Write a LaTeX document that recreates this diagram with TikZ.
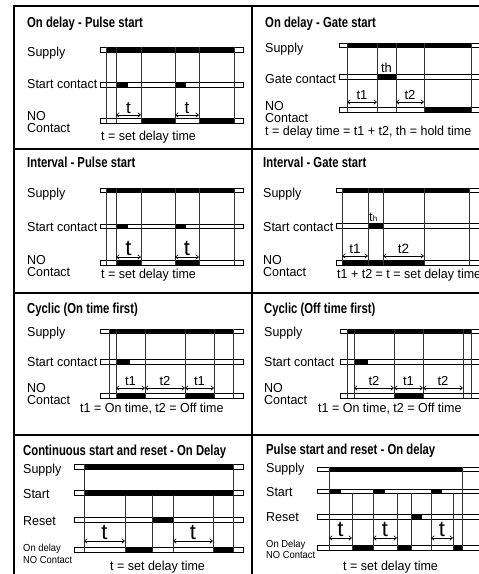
\documentclass[tikz,border=0pt]{standalone}
\usepackage{fontspec}
\setmainfont{Liberation Sans}
\newfontfamily\ttlfont[FakeStretch=0.78]{Liberation Sans Bold}
\newfontfamily\cndfont[FakeStretch=0.92]{Liberation Sans}
\newfontfamily\lblfont[FakeStretch=0.96]{Liberation Sans}
\usetikzlibrary{arrows.meta}
\tikzset{
 frame/.style={line width=1.6pt},
 sig/.style={draw, line width=0.75pt, fill=white},
 vl/.style={line width=0.7pt, draw=black!80},
 dim/.style={{Straight Barb[length=2.8pt,width=4.5pt]}-{Straight Barb[length=2.8pt,width=4.5pt]}, line width=0.6pt},
 ttl/.style={anchor=base west, inner sep=0, font=\ttlfont\fontsize{14.5}{16}\selectfont},
 lbl/.style={anchor=base west, inner sep=0, font=\lblfont\fontsize{13}{14}\selectfont},
 slbl/.style={anchor=base west, inner sep=0, font=\cndfont\fontsize{10.2}{12}\selectfont},
 tl/.style={anchor=base, inner sep=0, font=\fontsize{13}{14}\selectfont},
 midt/.style={anchor=base, inner sep=0, font=\fontsize{17}{19}\selectfont},
 bigt/.style={anchor=base, inner sep=0, font=\fontsize{22}{24}\selectfont},
}
\newcommand\sigbar[5]{%
  \draw[sig] (#1,#3) rectangle (#2,#4);
  \foreach \a/\b in {#5} {\fill (\a,#3) rectangle (\b,#4);}
}
\newcommand\vls[3]{\foreach \x in {#1} {\draw[vl] (\x,#2) -- (\x,#3);}}
\begin{document}
\begin{tikzpicture}[x=1pt,y=-1pt]
\useasboundingbox (0,0) rectangle (479,574);
\clip (0,0) rectangle (479,574);
\fill[white] (0,0) rectangle (479,574);
% frame
\draw[frame] (14,580) -- (14,6) -- (485,6);
\draw[frame] (252,6) -- (252,580);
\foreach \y in {149,293,435} {\draw[frame] (14,\y) -- (485,\y);}

% ---------- Panel 1
\node[ttl] (p1t) at (27,27) {On delay - Pulse start};
\node[lbl] (p1a) at (27,56) {Supply};
\node[lbl] (p1b) at (27,88) {Start contact};
\node[lbl] (p1c) at (27,120) {NO};
\node[lbl] (p1d) at (27,132) {Contact};
\sigbar{100}{243}{47}{52}{106/234}
\sigbar{100}{243}{82}{87}{116/128,175/186}
\sigbar{100}{243}{118}{123}{141/175,199/234}
\vls{106,116,141,175,199,234}{47}{123}
\draw[dim] (116,115) -- (141,115);
\draw[dim] (175,115) -- (199,115);
\node[midt] (p1t1) at (128.5,113) {t};
\node[midt] (p1t2) at (187,113) {t};
\node[lbl] (p1n) at (101,140) {t = set delay time};

% ---------- Panel 2
\node[ttl] (p2t) at (265,27) {On delay - Gate start};
\node[lbl] (p2a) at (265,52) {Supply};
\node[lbl] (p2b) at (265,83) {Gate contact};
\node[lbl] (p2c) at (265,110) {NO};
\node[lbl] (p2d) at (265,122) {Contact};
\sigbar{339}{482}{43}{47}{347/471}
\sigbar{339}{482}{74}{79}{377/396}
\sigbar{339}{482}{107}{112}{424/471}
\vls{347,377,396,424,471}{43}{112}
\node[tl] (p2th) at (386.5,72) {th};
\draw[dim] (347,102) -- (377,102);
\draw[dim] (396,102) -- (424,102);
\node[tl] (p2t1) at (362,99.5) {t1};
\node[tl] (p2t2) at (410,99.5) {t2};
\node[lbl] (p2n) at (265,135.5) {t = delay time = t1 + t2, th = hold time};

% ---------- Panel 3
\node[ttl] (p3t) at (27,167) {Interval - Pulse start};
\node[lbl] (p3a) at (27,197) {Supply};
\node[lbl] (p3b) at (27,231) {Start contact};
\node[lbl] (p3c) at (27,264.5) {NO};
\node[lbl] (p3d) at (27,276.5) {Contact};
\sigbar{100}{243}{188}{192}{106/234}
\sigbar{100}{243}{224}{228}{116/128,175/186}
\sigbar{100}{243}{260}{265}{116/141,175/199}
\vls{106,116,141,175,199,234}{188}{265}
\draw[dim] (116,257) -- (141,257);
\draw[dim] (175,257) -- (199,257);
\node[bigt] (p3t1) at (128.5,255) {t};
\node[bigt] (p3t2) at (187,255) {t};
\node[lbl] (p3n) at (101,278) {t = set delay time};

% ---------- Panel 4
\node[ttl] (p4t) at (263,167) {Interval - Gate start};
\node[lbl] (p4a) at (263,197) {Supply};
\node[lbl] (p4b) at (263,231) {Start contact};
\node[lbl] (p4c) at (263,264.5) {NO};
\node[lbl] (p4d) at (263,276.5) {Contact};
\sigbar{336}{482}{188}{192}{342/470}
\sigbar{336}{482}{223}{228}{368/383}
\sigbar{336}{482}{260}{265}{342/424}
\vls{342,368,383,424,469}{188}{265}
\node[anchor=base west,inner sep=0,font=\fontsize{13}{14}\selectfont] (p4th) at (369,221) {t\raisebox{-0.5pt}{\fontsize{8}{9}\selectfont h}};
\draw[dim] (342,256) -- (368,256);
\draw[dim] (383,256) -- (424,256);
\node[tl,font=\fontsize{13.5}{15}\selectfont] (p4t1) at (355,253) {t1};
\node[tl,font=\fontsize{13.5}{15}\selectfont] (p4t2) at (403.5,253) {t2};
\node[lbl] (p4n) at (337,278) {t1 + t2 = t = set delay time};

% ---------- Panel 5
\node[ttl] (p5t) at (27,313) {Cyclic (On time first)};
\node[lbl] (p5a) at (27,336) {Supply};
\node[lbl] (p5b) at (27,366) {Start contact};
\node[lbl] (p5c) at (27,392) {NO};
\node[lbl] (p5d) at (27,404.5) {Contact};
\sigbar{100}{243}{329}{333}{109/233}
\sigbar{100}{243}{359}{364}{116/130}
\sigbar{100}{243}{393}{398}{116/145,185/214}
\vls{109,116,145,185,214,233}{329}{398}
\draw[dim] (116,388) -- (145,388);
\draw[dim] (145,388) -- (185,388);
\draw[dim] (185,388) -- (214,388);
\node[tl] (p5t1) at (130.5,385.5) {t1};
\node[tl] (p5t2) at (165,385.5) {t2};
\node[tl] (p5t3) at (199.5,385.5) {t1};
\node[lbl] (p5n) at (80,412) {t1 = On time, t2 = Off time};

% ---------- Panel 6
\node[ttl] (p6t) at (264,313) {Cyclic (Off time first)};
\node[lbl] (p6a) at (264,336) {Supply};
\node[lbl] (p6b) at (264,366) {Start contact};
\node[lbl] (p6c) at (264,392) {NO};
\node[lbl] (p6d) at (264,404.5) {Contact};
\sigbar{340}{482}{329}{333}{347/471}
\sigbar{340}{482}{359}{364}{354/368}
\sigbar{340}{482}{393}{398}{394/423}
\vls{347,354,394,423,463,471}{329}{398}
\draw[dim] (354,388) -- (394,388);
\draw[dim] (394,388) -- (423,388);
\draw[dim] (423,388) -- (463,388);
\node[tl] (p6t1) at (374,385.5) {t2};
\node[tl] (p6t2) at (408.5,385.5) {t1};
\node[tl] (p6t3) at (443,385.5) {t2};
\node[lbl] (p6n) at (318,412) {t1 = On time, t2 = Off time};

% ---------- Panel 7
\node[ttl] (p7t) at (23,455) {Continuous start and reset - On Delay};
\node[lbl] (p7a) at (23,473) {Supply};
\node[lbl] (p7b) at (23,498) {Start};
\node[lbl] (p7c) at (23,525) {Reset};
\node[slbl] (p7d) at (23,551) {On delay};
\node[slbl] (p7e) at (23,563) {NO Contact};
\sigbar{74}{243}{464}{469}{84/233}
\sigbar{74}{243}{490}{495}{84/233}
\sigbar{74}{243}{517}{522}{152/173}
\sigbar{74}{243}{547}{552}{125/152,213/233}
\vls{84,233}{464}{552}
\vls{125,152,173,213}{495}{552}
\draw[dim] (84,541) -- (125,541);
\draw[dim] (173,541) -- (213,541);
\node[bigt] (p7t1) at (104.5,539) {t};
\node[bigt] (p7t2) at (193,539) {t};
\node[lbl] (p7n) at (110,570) {t = set delay time};

% ---------- Panel 8
\node[ttl] (p8t) at (266,454) {Pulse start and reset - On delay};
\node[lbl] (p8a) at (266,472) {Supply};
\node[lbl] (p8b) at (266,496) {Start};
\node[lbl] (p8c) at (266,521.5) {Reset};
\node[slbl] (p8d) at (266,547) {On Delay};
\node[slbl] (p8e) at (266,558.5) {NO Contact};
\sigbar{317}{482}{467}{471}{329/462}
\sigbar{317}{482}{489}{493}{329/341,373/385,431/442}
\sigbar{317}{482}{514}{519}{411/422}
\sigbar{317}{482}{545}{550}{352/373,397/411,453/462}
\vls{329,462}{467}{550}
\vls{352,373,397,411,431,453}{493}{550}
\draw[dim] (329,538) -- (352,538);
\draw[dim] (373,538) -- (397,538);
\draw[dim] (431,538) -- (453,538);
\node[bigt] (p8t1) at (340.5,536) {t};
\node[bigt] (p8t2) at (385,536) {t};
\node[bigt] (p8t3) at (442,536) {t};
\node[lbl] (p8n) at (343,570) {t = set delay time};
\end{tikzpicture}
\end{document}
